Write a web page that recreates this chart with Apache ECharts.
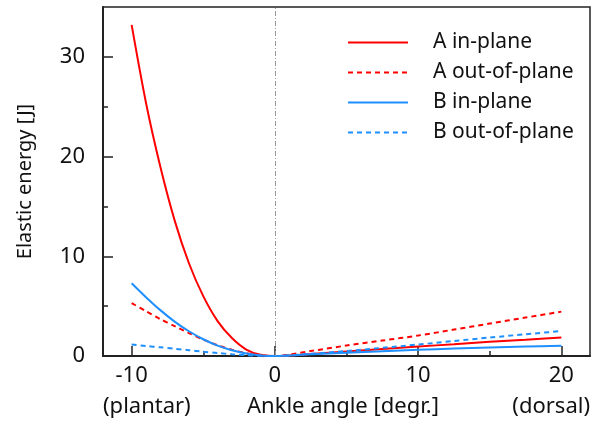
<!DOCTYPE html>
<html>
<head>
<meta charset="utf-8">
<script src="https://cdn.jsdelivr.net/npm/echarts@6/dist/echarts.min.js"></script>
<style>
html, body { margin: 0; padding: 0; background: #fff; }
#main { width: 595px; height: 433px; }
</style>
</head>
<body>
<div id="main"></div>
<script>
// ankle angle [degr.]
var angles = [-10, -9, -8, -7, -6, -5, -4, -3, -2, -1, 0, 2.5, 5, 7.5, 10, 12.5, 15, 17.5, 20];
// elastic energy [J]
var aIn  = [33.2, 25.4, 19.0, 13.6, 9.3, 6.0, 3.5, 1.8, 0.65, 0.12, 0, 0.2, 0.45, 0.7, 0.95, 1.18, 1.42, 1.63, 1.85];
var aOut = [5.3, 4.5, 3.7, 3.0, 2.3, 1.65, 1.08, 0.62, 0.28, 0.07, 0, 0.5, 1.05, 1.55, 2.05, 2.65, 3.25, 3.85, 4.45];
var bIn  = [7.3, 5.9, 4.6, 3.45, 2.48, 1.68, 1.04, 0.57, 0.24, 0.06, 0, 0.18, 0.33, 0.48, 0.62, 0.74, 0.85, 0.95, 1.03];
var bOut = [1.15, 1.0, 0.87, 0.73, 0.58, 0.43, 0.3, 0.18, 0.08, 0.02, 0, 0.22, 0.5, 0.82, 1.15, 1.5, 1.85, 2.18, 2.5];

var xMajor = [-10, 0, 10, 20];
var xMinor = [-5, 5, 15];
var yMajor = [0, 10, 20, 30];
var yMinor = [5, 15, 25];

var fontFam = 'Noto Sans';
var red = '#ff0000';
var blue = '#1e8fff';

function pairs(ys) {
    return angles.map(function (x, i) { return [x, ys[i]]; });
}

var myChart = echarts.init(document.getElementById('main'));
myChart.setOption({
    animation: false,
    textStyle: { fontFamily: fontFam },
    grid: {
        left: 103, top: 7, right: 5, bottom: 77,
        show: true, borderColor: '#222', borderWidth: 1.5
    },
    legend: {
        orient: 'vertical',
        left: 342, top: 27,
        itemWidth: 60, itemHeight: 14,
        itemGap: 9,
        itemStyle: { opacity: 0 },
        textStyle: { fontSize: 21, lineHeight: 20, color: '#111', fontFamily: fontFam, padding: [0, 0, 0, 20] },
        data: ['A in-plane', 'A out-of-plane', 'B in-plane', 'B out-of-plane']
    },
    xAxis: [
        {
            type: 'value', min: -12, max: 22,
            axisLine: { onZero: false, lineStyle: { color: '#222', width: 2 } },
            splitLine: { show: false },
            axisTick: { inside: true, length: 10, customValues: xMajor, lineStyle: { color: '#222', width: 1.5 } },
            axisLabel: { customValues: xMajor, fontSize: 22, color: '#111', margin: 9 }
        },
        {
            type: 'value', min: -12, max: 22, position: 'bottom',
            axisLine: { show: false, onZero: false },
            splitLine: { show: false },
            axisTick: { inside: true, length: 5, customValues: xMinor, lineStyle: { color: '#222', width: 1.5 } },
            axisLabel: { show: false }
        }
    ],
    yAxis: [
        {
            type: 'value', min: 0, max: 35,
            name: 'Elastic energy [J]', nameLocation: 'middle', nameGap: 68,
            nameTextStyle: { fontSize: 20, color: '#111' },
            axisLine: { show: true, onZero: false, lineStyle: { color: '#222', width: 2 } },
            splitLine: { show: false },
            axisTick: { inside: true, length: 10, customValues: yMajor, lineStyle: { color: '#222', width: 1.5 } },
            axisLabel: { customValues: yMajor, fontSize: 22, color: '#111', margin: 18 }
        },
        {
            type: 'value', min: 0, max: 35, position: 'left',
            axisLine: { show: false, onZero: false },
            splitLine: { show: false },
            axisTick: { inside: true, length: 5, customValues: yMinor, lineStyle: { color: '#222', width: 1.5 } },
            axisLabel: { show: false }
        }
    ],
    series: [
        {
            name: 'A in-plane', type: 'line', data: pairs(aIn), smooth: 0.3,
            showSymbol: false, symbol: 'none', color: red,
            lineStyle: { color: red, width: 2 },
            markLine: {
                silent: true, symbol: 'none', label: { show: false },
                lineStyle: { color: '#999', width: 1, type: [5, 2, 1, 2] },
                data: [{ xAxis: 0 }]
            }
        },
        {
            name: 'A out-of-plane', type: 'line', data: pairs(aOut), smooth: 0.3,
            showSymbol: false, symbol: 'none', color: red,
            lineStyle: { color: red, width: 2, type: [5, 4] }
        },
        {
            name: 'B in-plane', type: 'line', data: pairs(bIn), smooth: 0.3,
            showSymbol: false, symbol: 'none', color: blue,
            lineStyle: { color: blue, width: 2 }
        },
        {
            name: 'B out-of-plane', type: 'line', data: pairs(bOut), smooth: 0.3,
            showSymbol: false, symbol: 'none', color: blue,
            lineStyle: { color: blue, width: 2, type: [5, 4] }
        }
    ],
    graphic: [
        { type: 'text', left: 103, top: 396, style: { text: '(plantar)', font: '22px "Noto Sans"', fill: '#111' } },
        { type: 'text', left: 247, top: 396, style: { text: 'Ankle angle [degr.]', font: '22px "Noto Sans"', fill: '#111' } },
        { type: 'text', right: 5, top: 396, style: { text: '(dorsal)', font: '22px "Noto Sans"', fill: '#111' } }
    ]
});
</script>
</body>
</html>
